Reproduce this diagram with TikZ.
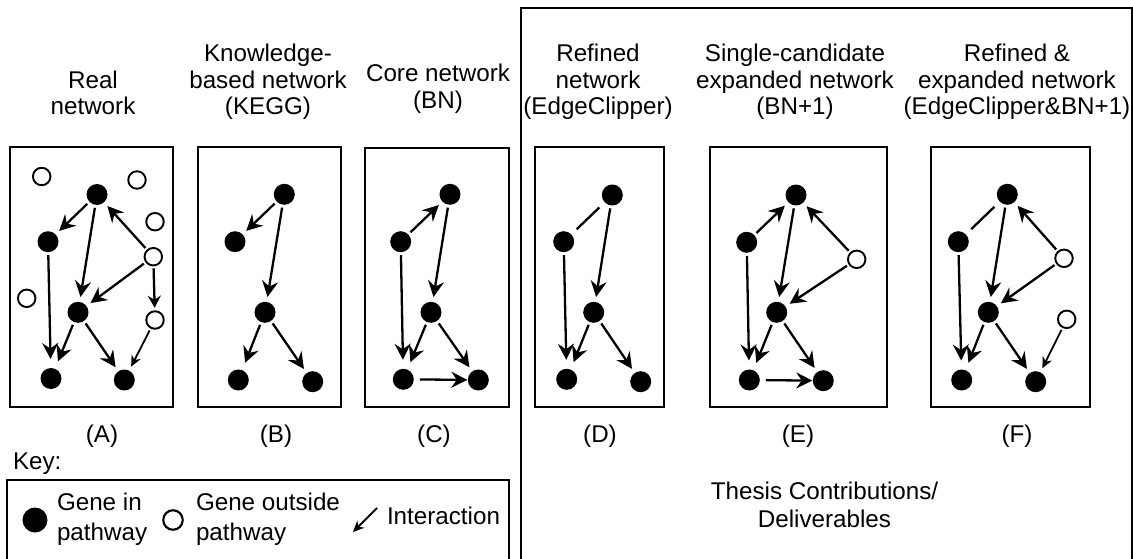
\documentclass[tikz,border=0pt]{standalone}
\usepackage{fontspec}
\setmainfont{Liberation Sans}
\usetikzlibrary{arrows.meta}
\begin{document}
\begin{tikzpicture}[x=1pt,y=-1pt,
  every node/.style={inner sep=0pt, outer sep=0pt},
  txt/.style={font=\fontsize{24.2}{26.7}\selectfont, anchor=base},
  ltxt/.style={font=\fontsize{24.2}{26.7}\selectfont, anchor=base west},
  panel/.style={draw, line width=2.4pt},
  gene/.style={circle, fill=black, minimum size=21pt},
  outgene/.style={circle, draw, line width=1.9pt, fill=white, minimum size=17.5pt},
  arr/.style={line width=2.3pt, -{Stealth[length=16pt,width=16pt,inset=5.5pt]}, shorten <=3pt, shorten >=5pt},
  marr/.style={line width=2.3pt, -{Stealth[length=12pt,width=13pt,inset=4pt]}, shorten <=3pt, shorten >=3.5pt},
  sarr/.style={line width=1.8pt, -{Stealth[length=11pt,width=10pt,inset=3.5pt]}, shorten <=3pt, shorten >=4.5pt},
  link/.style={line width=2.3pt, shorten <=7.5pt, shorten >=7.5pt},
]
\useasboundingbox (0,0) rectangle (1133,559);
\clip (0,0) rectangle (1133,559);

% titles
\node[txt] (tA1) at (93,88.4) {Real};
\node[txt] (tA2) at (93,115) {network};
\node[txt] (tB1) at (268,61.7) {Knowledge-};
\node[txt] (tB2) at (268,88.4) {based network};
\node[txt] (tB3) at (268,115) {(KEGG)};
\node[txt] (tC1) at (438,81.7) {Core network};
\node[txt] (tC2) at (438,108.4) {(BN)};
\node[txt] (tD1) at (598,61.7) {Refined};
\node[txt] (tD2) at (598,88.4) {network};
\node[txt] (tD3) at (598,115) {(EdgeClipper)};
\node[txt] (tE1) at (795,61.7) {Single-candidate};
\node[txt] (tE2) at (795,88.4) {expanded network};
\node[txt] (tE3) at (795,115) {(BN+1)};
\node[txt] (tF1) at (1017,61.7) {Refined \&};
\node[txt] (tF2) at (1017,88.4) {expanded network};
\node[txt] (tF3) at (1017,115) {(EdgeClipper\&BN+1)};

% contributions frame
\draw[line width=2.6pt] (521,8) rectangle (1132,600);

% panel labels
\node[txt] (lA) at (102,442) {(A)};
\node[txt] (lB) at (276,442) {(B)};
\node[txt] (lC) at (434,442) {(C)};
\node[txt] (lD) at (600,442) {(D)};
\node[txt] (lE) at (798,442) {(E)};
\node[txt] (lF) at (1017,442) {(F)};

% (A) real network
\draw[panel] (10,147) rectangle (173,407);
\node[gene] (at) at (97,194.5) {};
\node[gene] (al) at (48,241.7) {};
\node[gene] (am) at (78,312.3) {};
\node[gene] (abl) at (51,378.5) {};
\node[gene] (abr) at (124.3,380) {};
\node[outgene] (ao1) at (41.7,176.5) {};
\node[outgene] (ao2) at (137,180) {};
\node[outgene] (ao3) at (155,221.7) {};
\node[outgene] (ao4) at (153.3,256.7) {};
\node[outgene] (ao5) at (26.7,298.3) {};
\node[outgene] (ao6) at (155,320) {};
\draw[arr] (at) -- (al);
\draw[arr] (at) -- (am);
\draw[arr] (ao4) -- (at);
\draw[arr] (ao4) -- (am);
\draw[marr] (ao4) -- (ao6);
\draw[arr, shorten >=9pt] (al) -- (abl);
\draw[arr, shorten >=8pt] (am) -- (abl);
\draw[arr] (am) -- (abr);
\draw[sarr] (ao6) -- (abr);

% (B) knowledge-based network
\draw[panel] (198,147) rectangle (341,407);
\node[gene] (bt) at (284.3,194.3) {};
\node[gene] (bl) at (235,241.7) {};
\node[gene] (bm) at (265,312.3) {};
\node[gene] (bbl) at (238.3,380) {};
\node[gene] (bbr) at (312.7,381.7) {};
\draw[arr] (bt) -- (bl);
\draw[arr] (bt) -- (bm);
\draw[arr, shorten >=8pt] (bm) -- (bbl);
\draw[arr] (bm) -- (bbr);

% (C) core network
\draw[panel] (365,148) rectangle (509,407);
\node[gene] (ct) at (450,194.3) {};
\node[gene] (cl) at (400.7,241.7) {};
\node[gene] (cm) at (431,312.3) {};
\node[gene] (cbl) at (403.3,379.3) {};
\node[gene] (cbr) at (478.3,380) {};
\draw[arr] (cl) -- (ct);
\draw[arr] (ct) -- (cm);
\draw[arr, shorten >=9pt] (cl) -- (cbl);
\draw[arr, shorten >=8pt] (cm) -- (cbl);
\draw[arr] (cm) -- (cbr);
\draw[arr, shorten <=6pt, shorten >=0.5pt] (cbl) -- (cbr);

% (D) refined network
\draw[panel] (535,147) rectangle (664,407);
\node[gene] (dt) at (612.3,195) {};
\node[gene] (dl) at (563.7,241.7) {};
\node[gene] (dm) at (593.7,312.3) {};
\node[gene] (dbl) at (566.7,379.3) {};
\node[gene] (dbr) at (640.7,381.7) {};
\draw[link] (dt) -- (dl);
\draw[arr] (dt) -- (dm);
\draw[arr, shorten >=9pt] (dl) -- (dbl);
\draw[arr, shorten >=8pt] (dm) -- (dbl);
\draw[arr] (dm) -- (dbr);

% (E) single-candidate expanded network
\draw[panel] (710,147) rectangle (887,407);
\node[gene] (et) at (796,195) {};
\node[gene] (el) at (746.7,242.3) {};
\node[gene] (em) at (776.7,312.3) {};
\node[gene] (ebl) at (749.3,380) {};
\node[gene] (ebr) at (823.3,380.7) {};
\node[outgene] (eo) at (856.7,259.3) {};
\draw[arr] (el) -- (et);
\draw[arr] (et) -- (em);
\draw[arr] (eo) -- (et);
\draw[arr] (eo) -- (em);
\draw[arr, shorten >=9pt] (el) -- (ebl);
\draw[arr, shorten >=8pt] (em) -- (ebl);
\draw[arr] (em) -- (ebr);
\draw[arr, shorten <=6pt, shorten >=0.5pt] (ebl) -- (ebr);

% (F) refined and expanded network
\draw[panel] (931,147) rectangle (1090,407);
\node[gene] (ft) at (1007.3,194.3) {};
\node[gene] (fl) at (958.3,241.7) {};
\node[gene] (fm) at (988.3,312.3) {};
\node[gene] (fbl) at (961.7,380) {};
\node[gene] (fbr) at (1035.7,381.7) {};
\node[outgene] (fo1) at (1064,258.3) {};
\node[outgene] (fo2) at (1066.7,319.3) {};
\draw[link] (ft) -- (fl);
\draw[arr] (ft) -- (fm);
\draw[arr] (fo1) -- (ft);
\draw[arr] (fo1) -- (fm);
\draw[arr, shorten >=9pt] (fl) -- (fbl);
\draw[arr, shorten >=8pt] (fm) -- (fbl);
\draw[arr] (fm) -- (fbr);
\draw[sarr] (fo2) -- (fbr);

% key
\node[ltxt] (keyt) at (13,469) {Key:};
\draw[panel] (7,480) rectangle (509,600);
\node[gene, minimum size=25pt] (kg) at (35,520) {};
\node[ltxt] (kg1) at (57,510) {Gene in};
\node[ltxt] (kg2) at (57,540) {pathway};
\node[outgene, minimum size=19.5pt, line width=2.1pt] (ko) at (173,520) {};
\node[ltxt] (ko1) at (196,510) {Gene outside};
\node[ltxt] (ko2) at (196,540) {pathway};
\coordinate (ka) at (377,508);
\coordinate (kb) at (353,532);
\draw[sarr, line width=2.1pt, shorten <=0pt, shorten >=0pt] (ka) -- (kb);
\node[ltxt] (ki) at (387,524) {Interaction};

% contributions caption
\node[txt] (th1) at (824.5,499) {Thesis Contributions/};
\node[txt] (th2) at (824.5,527) {Deliverables};
\end{tikzpicture}
\end{document}
